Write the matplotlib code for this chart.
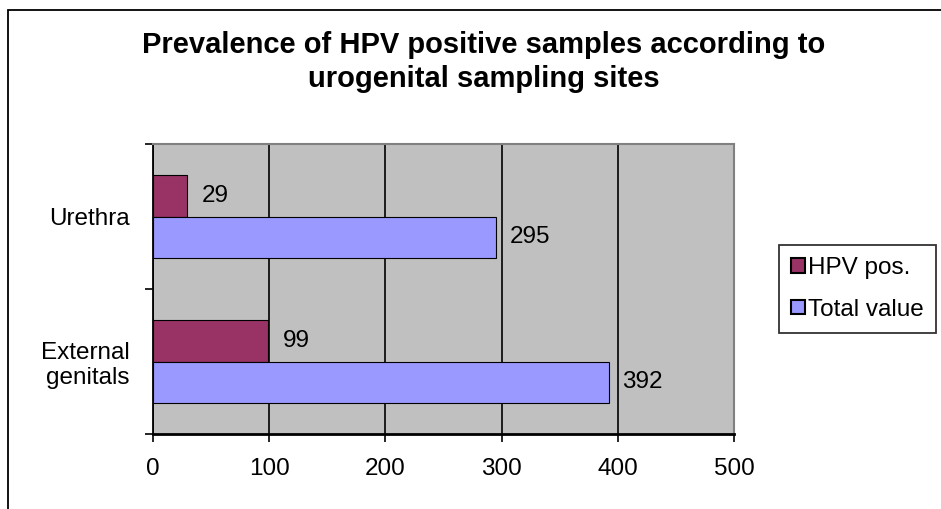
import matplotlib
matplotlib.use("Agg")
import matplotlib.pyplot as plt
from matplotlib.patches import Rectangle, Patch
import numpy as np

plt.rcParams['font.family'] = ['Liberation Sans', 'DejaVu Sans']

categories = ["External\ngenitals", "Urethra"]
hpv_pos = [99, 29]
total_value = [392, 295]
series_names = ["HPV pos.", "Total value"]
x_ticks = [0, 100, 200, 300, 400, 500]
title = "Prevalence of HPV positive samples according to\nurogenital sampling sites"

W, H = 941, 509
fig = plt.figure(figsize=(W / 100, H / 100), dpi=100)

# outer chart border (cropped on right/bottom)
fig.patches.append(Rectangle((8 / W, -0.1), 1.2, 1.1 - 10 / H, transform=fig.transFigure,
                             fill=False, edgecolor='black', linewidth=1.3))

ax = fig.add_axes([153 / W, 1 - 434 / H, (734 - 153) / W, (434 - 144) / H])
ax.set_facecolor('#C0C0C0')

FS = 17.5
y = np.arange(len(categories))
bw = 1 / 3.5
c_hpv = '#993366'
c_tot = '#9999FF'
ax.barh(y + bw / 2, hpv_pos, height=bw, color=c_hpv, edgecolor='black', linewidth=0.8, zorder=3)
ax.barh(y - bw / 2, total_value, height=bw, color=c_tot, edgecolor='black', linewidth=0.8, zorder=3)

for yi, v in zip(y + bw / 2, hpv_pos):
    ax.text(v + 13, yi, str(v), va='center', ha='left', fontsize=FS, zorder=4)
for yi, v in zip(y - bw / 2, total_value):
    ax.text(v + 12, yi, str(v), va='center', ha='left', fontsize=FS, zorder=4)

ax.set_xlim(0, 500)
ax.set_ylim(-0.5, len(categories) - 0.5)
ax.set_xticks(x_ticks)
ax.set_xticklabels([str(t) for t in x_ticks], fontsize=FS)
ax.set_yticks(y)
ax.set_yticklabels(categories, fontsize=FS, linespacing=1.15)
ax.tick_params(axis='y', length=0, pad=17)
ax.set_yticks(np.arange(-0.5, len(categories)), minor=True)
ax.tick_params(axis='y', which='minor', length=6, width=1.2, direction='out')
ax.tick_params(axis='x', length=6, width=1.2, direction='out', pad=11)
ax.grid(axis='x', color='black', linewidth=1.2, zorder=1)
ax.set_axisbelow(True)
for s in ['top', 'right']:
    ax.spines[s].set_color('#808080')
    ax.spines[s].set_linewidth(1.5)
ax.spines['left'].set_linewidth(1.3)
ax.spines['bottom'].set_linewidth(2)

fig.text(484 / W, 1 - 62 / H, title, ha='center', va='center', fontsize=21, fontweight='bold',
         linespacing=1.25)

handles = [Patch(facecolor=c_hpv, edgecolor='black', linewidth=1.5),
           Patch(facecolor=c_tot, edgecolor='black', linewidth=1.5)]
leg = fig.legend(handles, series_names, loc='upper left', bbox_to_anchor=(779 / W, 1 - 245 / H),
                 fontsize=FS, frameon=True, fancybox=False, handlelength=0.55, handleheight=0.55,
                 handletextpad=0.15, borderpad=0.5, labelspacing=0.8, borderaxespad=0)
leg.get_frame().set_edgecolor('black')
leg.get_frame().set_linewidth(1.3)

fig.savefig('out.png', dpi=100)
